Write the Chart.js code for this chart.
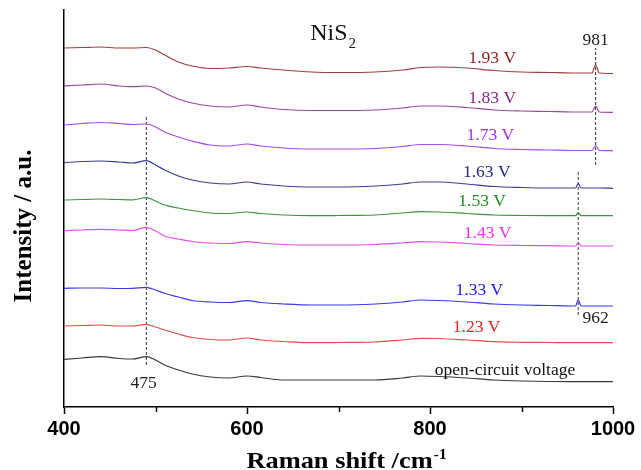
<!DOCTYPE html>
<html>
<head>
<meta charset="utf-8">
<script src="https://cdn.jsdelivr.net/npm/chart.js@4.4.1/dist/chart.umd.min.js"></script>
<style>
  html, body { margin: 0; padding: 0; background: #fff; }
</style>
</head>
<body>
<canvas id="ramanChart" width="641" height="470"></canvas>
<script>
// Raman shift (cm-1) sample points shared by all spectra
const ramanShift = [400, 420, 440, 460, 475, 490, 500, 510, 525, 540, 560, 580, 600, 615, 640, 670, 700,
    740, 770, 790, 810, 840, 870, 900, 930, 955, 959, 962, 965, 977, 981, 985, 1000];

// Stacked intensities (offset already applied), a.u.
const ocv    = [40.7, 42, 43.3, 41.5, 41, 43.3, 40, 35, 30, 26, 23, 22, 24, 22.5, 20, 20, 20, 20, 22, 24, 23.5,
    22, 20, 19, 18.5, 18.3, 18.3, 18.3, 18.3, 18.3, 18.3, 18.3, 18.3];
const v123   = [74, 74.5, 75, 74, 74, 75.7, 73, 70, 66, 62.5, 60.5, 60, 62, 60, 58.5, 57.3, 57.5, 58, 60, 61.7,
    61.5, 60, 58.3, 57.7, 57.5, 57.3, 57.3, 57.3, 57.3, 57.3, 57.3, 57.3, 57.3];
const v133   = [111.7, 112, 112, 111.5, 111.7, 112.7, 110, 106.7, 103, 99.5, 98, 97.5, 99.3, 97.5, 96, 95, 95, 96,
    98, 100, 99.5, 98, 96, 95, 94.5, 94, 94, 100, 94, 94, 94, 94, 94];
const v143   = [169.3, 170, 170.7, 170, 169.5, 172.7, 169, 164, 161, 158.5, 157, 156.5, 158.3, 157, 155.5, 155, 155,
    155.5, 157, 158.3, 158, 156.5, 155, 154.5, 154.3, 154, 154, 157.5, 154, 154, 154, 154, 154];
const v153   = [200, 200.5, 201, 200.5, 200.2, 202.3, 199, 195, 192, 189.5, 187, 186.5, 188, 186.5, 185, 184.3, 184.5,
    185, 187, 188.3, 188, 186.5, 185, 184.5, 184.3, 184.3, 184.3, 187.5, 184.3, 184.3, 184.3, 184.3, 184.3];
const v163   = [237.3, 238.5, 239, 238, 237, 239.3, 235, 230, 224, 220, 217, 216, 218, 216, 214, 213, 213, 214, 216,
    218, 218, 216, 213.5, 212.5, 212, 212, 212, 216.5, 212, 212, 212, 212, 211.7];
const v173   = [275, 276.5, 277.5, 276.5, 275.5, 276, 273, 268, 263, 259, 255, 254, 256, 254, 252, 251, 251, 251.5,
    253.5, 255.5, 255.5, 254, 251.5, 250.5, 250, 249.5, 249.5, 249.5, 249.5, 249.5, 254.5, 249.5, 249.3];
const v183   = [314, 315, 316, 314, 313.3, 314, 312, 307, 301, 297, 294, 293, 295, 293, 290.5, 289.5, 289.5, 290, 292,
    294, 294, 292.5, 290, 289, 288.5, 288, 288, 288, 288, 288, 294, 288, 287.7];
const v193   = [352, 352.5, 353, 352, 352, 352.5, 350, 345, 338, 334, 331.5, 332, 333.5, 332, 330, 328, 327.5, 328,
    330, 332.5, 333, 332, 329.5, 328, 327.5, 327, 327, 327, 327, 327, 335, 327, 326.5];

const seriesNames = ['open-circuit voltage', '1.23 V', '1.33 V', '1.43 V', '1.53 V', '1.63 V', '1.73 V', '1.83 V', '1.93 V'];
const seriesValues = [ocv, v123, v133, v143, v153, v163, v173, v183, v193];

// x tick labels
const xTicks = [400, 600, 800, 1000];
const xMinorTicks = [500, 700, 900];

// marker lines: [x, y from, y to] and their labels
const markerLines = [[490, 35, 285], [962, 85, 228], [981, 235, 352]];

const lineColors  = ['#3a3a3a', '#e64a4a', '#3a3ae6', '#e44ee4', '#3c963c', '#3c3c96', '#a64ee6', '#9a4a9a', '#a0403f'];
const labelColors = ['#111111', '#ee2020', '#2020ee', '#ee30ee', '#208a20', '#28288c', '#a030f0', '#8c248c', '#8c1c1c'];
// where each curve's label sits (data units)
const labelPos = [[882, 30], [851, 73], [854, 110], [863, 167], [857, 199], [862, 228], [866, 265], [868, 302], [868, 342]];
const peakLabels = [['475', 487, 17], ['962', 981, 82], ['981', 981, 360]];

const serif = "'Liberation Serif', 'Times New Roman', serif";

const datasets = seriesValues.map((vals, i) => ({
    label: seriesNames[i],
    data: ramanShift.map((x, j) => ({ x: x, y: vals[j] })),
    borderColor: lineColors[i],
    borderWidth: 1.2,
    pointRadius: 0,
    cubicInterpolationMode: 'monotone',
    fill: false
}));

markerLines.forEach(m => {
    datasets.push({
        label: 'marker',
        data: [{ x: m[0], y: m[1] }, { x: m[0], y: m[2] }],
        borderColor: '#333',
        borderWidth: 1,
        borderDash: [3, 2],
        pointRadius: 0,
        fill: false
    });
});

// Labels, minor ticks and axis titles
const annotate = {
    id: 'annotate',
    afterDraw(chart) {
        const ctx = chart.ctx;
        const xs = chart.scales.x;
        const ys = chart.scales.y;
        const area = chart.chartArea;

        ctx.save();
        // minor ticks
        ctx.strokeStyle = '#000';
        ctx.lineWidth = 1.5;
        xMinorTicks.forEach(v => {
            const px = Math.round(xs.getPixelForValue(v)) + 0.5;
            ctx.beginPath();
            ctx.moveTo(px, area.bottom);
            ctx.lineTo(px, area.bottom + 5);
            ctx.stroke();
        });

        // curve labels
        ctx.textAlign = 'center';
        ctx.textBaseline = 'middle';
        ctx.font = '17.5px ' + serif;
        seriesNames.forEach((name, i) => {
            ctx.fillStyle = labelColors[i];
            ctx.fillText(name, xs.getPixelForValue(labelPos[i][0]), ys.getPixelForValue(labelPos[i][1]));
        });

        ctx.fillStyle = '#222';
        peakLabels.forEach(p => {
            ctx.fillText(p[0], xs.getPixelForValue(p[1]), ys.getPixelForValue(p[2]));
        });

        // NiS2
        ctx.textAlign = 'left';
        ctx.textBaseline = 'alphabetic';
        ctx.fillStyle = '#111';
        ctx.font = '24px ' + serif;
        const nx = xs.getPixelForValue(669);
        const ny = ys.getPixelForValue(360.5);
        ctx.fillText('NiS', nx, ny);
        const nw = ctx.measureText('NiS').width;
        ctx.font = '15px ' + serif;
        ctx.fillText('2', nx + nw + 1, ny + 8.5);

        // x title
        ctx.fillStyle = '#000';
        ctx.font = 'bold 24px ' + serif;
        const main = 'Raman shift /cm';
        const mw = ctx.measureText(main).width;
        ctx.font = 'bold 14px ' + serif;
        const sw = ctx.measureText('-1').width;
        const sx = 1.1;
        const total = (mw + sw + 1) * sx;
        const cx = (area.left + area.right) / 2 + 8;
        ctx.save();
        ctx.translate(cx - total / 2, 468);
        ctx.scale(sx, 1);
        ctx.font = 'bold 24px ' + serif;
        ctx.fillText(main, 0, 0);
        ctx.font = 'bold 14px ' + serif;
        ctx.fillText('-1', mw + 1, -9);
        ctx.restore();

        // y title
        ctx.save();
        ctx.translate(31, 226);
        ctx.rotate(-Math.PI / 2);
        ctx.textAlign = 'center';
        ctx.font = 'bold 25px ' + serif;
        ctx.fillText('Intensity / a.u.', 0, 0);
        ctx.restore();

        ctx.restore();
    }
};

new Chart(document.getElementById('ramanChart').getContext('2d'), {
    type: 'line',
    data: { datasets: datasets },
    options: {
        responsive: false,
        animation: false,
        layout: { padding: { top: 10, right: 28, left: 0, bottom: 0 } },
        plugins: {
            legend: { display: false },
            tooltip: { enabled: false }
        },
        scales: {
            x: {
                type: 'linear',
                min: 400,
                max: 1000,
                afterFit: s => { s.height = 63; },
                afterBuildTicks: s => { s.ticks = xTicks.map(v => ({ value: v })); },
                border: { display: true, color: '#000', width: 1.5 },
                grid: { drawOnChartArea: false, drawTicks: true, tickLength: 7, tickWidth: 1.5, color: '#000' },
                ticks: {
                    padding: 3,
                    color: '#000',
                    callback: v => String(v),
                    font: { family: "'Liberation Sans', Arial, sans-serif", size: 20, weight: 'bold' }
                }
            },
            y: {
                type: 'linear',
                min: -7,
                max: 390,
                afterFit: s => { s.width = 64; },
                border: { display: true, color: '#000', width: 1.5 },
                grid: { drawOnChartArea: false, drawTicks: false },
                ticks: { display: false }
            }
        }
    },
    plugins: [annotate]
});
</script>
</body>
</html>
